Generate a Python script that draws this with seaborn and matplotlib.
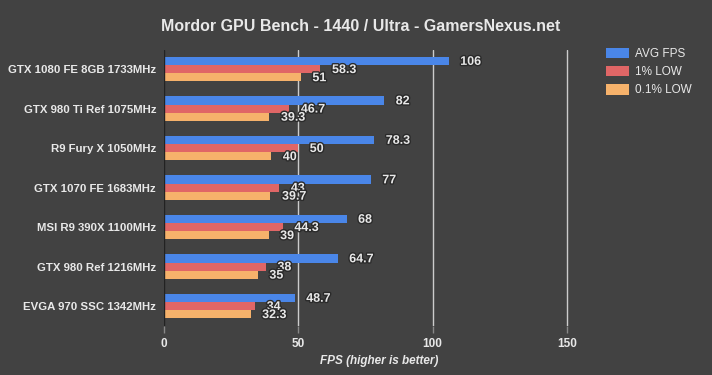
import pandas as pd
import numpy as np
import matplotlib.pyplot as plt
import seaborn as sns
import matplotlib.patheffects as pe

gpus = ['GTX 1080 FE 8GB 1733MHz', 'GTX 980 Ti Ref 1075MHz', 'R9 Fury X 1050MHz',
        'GTX 1070 FE 1683MHz', 'MSI R9 390X 1100MHz', 'GTX 980 Ref 1216MHz',
        'EVGA 970 SSC 1342MHz']
avg_fps = [106, 82, 78.3, 77, 68, 64.7, 48.7]
low_1 = [58.3, 46.7, 50, 43, 44.3, 38, 34]
low_01 = [51, 39.3, 40, 39.7, 39, 35, 32.3]
series = ['AVG FPS', '1% LOW', '0.1% LOW']
colors = ['#4a86e8', '#e06666', '#f6b26b']

df = pd.DataFrame({'gpu': gpus, 'AVG FPS': avg_fps, '1% LOW': low_1, '0.1% LOW': low_01})
long = df.melt(id_vars='gpu', var_name='metric', value_name='fps')

bg = '#424242'
txt = '#e8e8e8'

sns.set_theme(style='dark')
plt.rcParams['font.family'] = ['Liberation Sans', 'DejaVu Sans']

fig = plt.figure(figsize=(7.12, 3.75), dpi=100, facecolor=bg)
ax = fig.add_axes([0.230, 0.131, 0.604, 0.737])
ax.set_facecolor(bg)

sns.barplot(data=long, y='gpu', x='fps', hue='metric', hue_order=series,
            palette=colors, orient='h', width=0.62, saturation=1,
            edgecolor='none', linewidth=0, ax=ax, legend=True)

for cont in ax.containers:
    for bar in cont:
        w = bar.get_width()
        y = bar.get_y() + bar.get_height() / 2
        ax.text(w + 4.3, y + 0.02, f'{w:g}', va='center', ha='left',
                color=txt, fontsize=9, fontweight='bold',
                path_effects=[pe.withStroke(linewidth=2, foreground='#2a2a2a')])

ax.set_xlim(0, 160)
ax.set_ylim(6.5, -0.5)
ax.set_xticks([0, 50, 100, 150])
ax.grid(False)
for xv in [50, 100, 150]:
    ax.axvline(xv, color='#cccccc', lw=1, zorder=0)
ax.axvline(0, color='#222222', lw=1, zorder=3)
for s in ax.spines.values():
    s.set_visible(False)

ax.tick_params(axis='x', colors='#888888', length=5, width=1, direction='out',
               labelcolor=txt, labelsize=8.5, pad=4)
ax.tick_params(axis='y', length=0, labelcolor=txt, labelsize=8.2, pad=5.5)
ax.tick_params(axis='x', bottom=True)
for lbl in ax.get_xticklabels() + ax.get_yticklabels():
    lbl.set_fontweight('bold')

ax.set_ylabel('')
ax.set_xlabel('FPS (higher is better)', color=txt, fontsize=8.5, fontweight='bold',
              fontstyle='italic', labelpad=3)

leg = ax.legend(loc='upper left', bbox_to_anchor=(1.003, 1.045), frameon=False,
                labelcolor=txt, fontsize=8.5, handlelength=2.0, handleheight=1.0,
                handletextpad=0.45, labelspacing=0.5)

fig.text(0.507, 0.93, 'Mordor GPU Bench - 1440 / Ultra - GamersNexus.net',
         ha='center', va='center', color=txt, fontsize=11.5, fontweight='bold')

fig.savefig('out.png', dpi=100, facecolor=bg)
